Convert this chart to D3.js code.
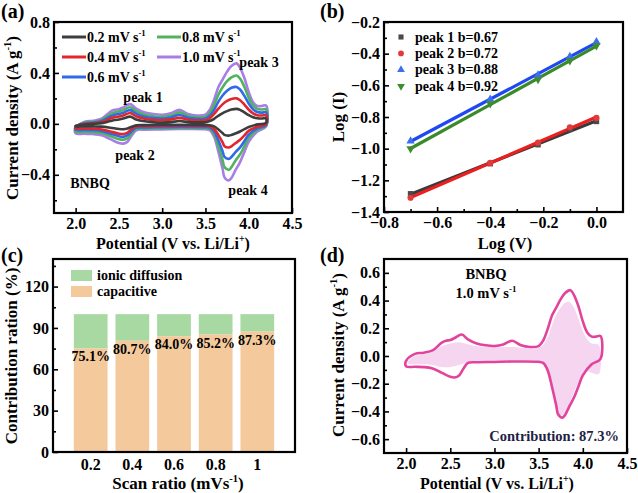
<!DOCTYPE html>
<html><head><meta charset="utf-8">
<script src="https://cdn.jsdelivr.net/npm/d3@7/dist/d3.min.js"></script>
<style>body{margin:0;background:#fff}svg{display:block}</style>
</head><body>
<script>
// ---------------- DATA ----------------
// (a) CV curves: anodic (upper) and cathodic (lower) branches
const potUp   = [2.0,2.1,2.2,2.3,2.4,2.45,2.5,2.55,2.63,2.7,2.8,2.9,3.0,3.1,3.2,3.3,3.4,3.5,3.55,3.6,3.65,3.7,3.75,3.8,3.86,3.9,3.95,4.0,4.05,4.1,4.15,4.2];
const potDown = [4.2,4.1,4.0,3.95,3.9,3.85,3.8,3.77,3.72,3.7,3.65,3.6,3.55,3.5,3.2,3.0,2.8,2.7,2.65,2.6,2.55,2.5,2.4,2.3,2.2,2.1,2.0];
const rateLabels = ["0.2","0.4","0.6","0.8","1.0"];
const cv02Up = [-0.015,-0.005,0.0,0.006,0.022,0.03,0.035,0.042,0.057,0.035,0.02,0.013,0.011,0.014,0.022,0.014,0.012,0.013,0.022,0.04,0.064,0.085,0.1,0.112,0.118,0.11,0.09,0.068,0.052,0.044,0.042,0.043];
const cv02Down = [0.008,-0.004,-0.025,-0.042,-0.06,-0.074,-0.087,-0.092,-0.087,-0.074,-0.044,-0.02,-0.011,-0.01,-0.008,-0.009,-0.01,-0.012,-0.022,-0.036,-0.042,-0.04,-0.03,-0.022,-0.02,-0.02,-0.02];
const cv04Up = [-0.02,0.0,0.005,0.014,0.042,0.052,0.058,0.066,0.085,0.06,0.04,0.031,0.029,0.035,0.047,0.033,0.028,0.029,0.045,0.078,0.12,0.155,0.18,0.195,0.2,0.186,0.152,0.112,0.082,0.068,0.066,0.068];
const cv04Down = [-0.003,-0.022,-0.055,-0.09,-0.125,-0.15,-0.176,-0.186,-0.175,-0.148,-0.088,-0.04,-0.02,-0.017,-0.015,-0.016,-0.018,-0.021,-0.04,-0.068,-0.08,-0.077,-0.06,-0.044,-0.038,-0.036,-0.035];
const cv06Up = [-0.025,0.004,0.01,0.022,0.058,0.072,0.078,0.088,0.108,0.08,0.056,0.045,0.042,0.05,0.07,0.047,0.04,0.042,0.064,0.11,0.175,0.225,0.26,0.283,0.29,0.27,0.22,0.16,0.115,0.093,0.088,0.09];
const cv06Down = [-0.01,-0.035,-0.085,-0.135,-0.185,-0.22,-0.26,-0.275,-0.26,-0.22,-0.13,-0.06,-0.03,-0.026,-0.024,-0.026,-0.028,-0.031,-0.056,-0.088,-0.102,-0.097,-0.077,-0.057,-0.05,-0.048,-0.047];
const cv08Up = [-0.03,0.008,0.016,0.03,0.075,0.09,0.097,0.108,0.13,0.1,0.072,0.06,0.056,0.065,0.09,0.062,0.052,0.056,0.085,0.15,0.23,0.29,0.335,0.365,0.38,0.355,0.29,0.205,0.145,0.118,0.113,0.115];
const cv08Down = [-0.015,-0.045,-0.11,-0.175,-0.24,-0.285,-0.34,-0.36,-0.34,-0.29,-0.175,-0.08,-0.04,-0.034,-0.032,-0.034,-0.036,-0.04,-0.072,-0.112,-0.125,-0.12,-0.096,-0.072,-0.064,-0.062,-0.06];
const cv10Up = [-0.035,0.015,0.024,0.04,0.095,0.11,0.115,0.13,0.155,0.12,0.09,0.077,0.072,0.083,0.11,0.077,0.065,0.072,0.11,0.19,0.29,0.35,0.41,0.455,0.475,0.44,0.36,0.25,0.17,0.14,0.14,0.145];
const cv10Down = [-0.02,-0.06,-0.14,-0.22,-0.3,-0.36,-0.425,-0.445,-0.42,-0.36,-0.22,-0.1,-0.05,-0.042,-0.04,-0.043,-0.045,-0.05,-0.09,-0.14,-0.155,-0.15,-0.12,-0.09,-0.08,-0.078,-0.075];

// (b) log(I) vs log(v)
const logV = [-0.70,-0.40,-0.22,-0.10,0.00];
const peak1 = [-1.285,-1.095,-0.975,-0.878,-0.828];
const peak2 = [-1.31,-1.09,-0.962,-0.865,-0.806];
const peak3 = [-0.952,-0.688,-0.535,-0.419,-0.325];
const peak4 = [-1.0,-0.716,-0.563,-0.444,-0.35];
const peakLabels = ["peak 1 b=0.67","peak 2 b=0.72","peak 3 b=0.88","peak 4 b=0.92"];

// (c) contribution ratios
const scanRates = ["0.2","0.4","0.6","0.8","1"];
const capacitive = [75.1,80.7,84.0,85.2,87.3];
const diffusion = capacitive.map(v => 100 - v);

// (d) 1.0 mV/s CV with capacitive fill region
const capPotUp = [2.02,2.1,2.2,2.3,2.4,2.5,2.6,2.7,2.8,3.0,3.2,3.3,3.4,3.5,3.55,3.6,3.65,3.7,3.75,3.8,3.85,3.9,3.95,4.0,4.05,4.1,4.18];
const capUp    = [-0.04,0.0,0.01,0.03,0.07,0.09,0.1,0.085,0.07,0.065,0.065,0.06,0.055,0.06,0.08,0.13,0.22,0.3,0.35,0.385,0.39,0.35,0.27,0.18,0.12,0.09,0.08];
const capPotDown = [4.18,4.1,4.05,4.0,3.95,3.9,3.85,3.8,3.76,3.72,3.7,3.65,3.6,3.55,3.5,3.0,2.8,2.7,2.6,2.5,2.4,2.3,2.2,2.1,2.02];
const capDown    = [-0.13,-0.12,-0.11,-0.13,-0.19,-0.26,-0.34,-0.41,-0.43,-0.41,-0.35,-0.21,-0.095,-0.05,-0.035,-0.035,-0.035,-0.045,-0.065,-0.08,-0.08,-0.065,-0.06,-0.06,-0.055];

// ---------------- DRAW ----------------
const FONT = "'Liberation Serif','Times New Roman',serif";
const svg = d3.select("body").append("svg").attr("width",638).attr("height",493)
  .attr("font-family",FONT).attr("font-weight","bold");

function rich(sel, parts, size){
  let prevSup = false;
  parts.forEach(([t, sup]) => {
    const ts = sel.append("tspan").text(t);
    if (sup){ ts.attr("font-size", size*0.62).attr("dy", -size*0.42); }
    else if (prevSup){ ts.attr("dy", size*0.42); }
    prevSup = sup;
  });
  return sel;
}
function label(x,y,parts,size,anchor,rot,fill){
  const t = svg.append("text").attr("font-size",size).attr("text-anchor",anchor||"start")
    .attr("fill",fill||"#000");
  if (rot) t.attr("transform",`translate(${x},${y}) rotate(-90)`);
  else t.attr("x",x).attr("y",y);
  return rich(t, typeof parts === "string" ? [[parts,false]] : parts, size);
}
const TICK = 16;
function styleAxis(g, size){
  g.select(".domain").remove();
  g.attr("font-family",FONT).attr("font-weight","bold").attr("font-size",size);
  g.selectAll(".tick line").attr("stroke","#000").attr("stroke-width",1.6);
  g.selectAll(".tick text").attr("font-size",size).attr("font-family",FONT).attr("font-weight","bold").attr("fill","#000");
}
function frame(x0,y0,x1,y1){
  svg.append("rect").attr("x",x0).attr("y",y0).attr("width",x1-x0).attr("height",y1-y0)
    .attr("fill","none").attr("stroke","#000").attr("stroke-width",2.2);
}
function yAxes(y, x0, major, minor, fmt){
  const g = svg.append("g").attr("transform",`translate(${x0},0)`)
    .call(d3.axisLeft(y).tickValues(major).tickSize(-5).tickPadding(4).tickFormat(fmt));
  styleAxis(g,TICK);
  if (minor){
    const m = svg.append("g").attr("transform",`translate(${x0},0)`)
      .call(d3.axisLeft(y).tickValues(minor).tickSize(-3).tickFormat(""));
    styleAxis(m,TICK);
  }
}
function xAxes(x, y0, major, minor, fmt){
  const g = svg.append("g").attr("transform",`translate(0,${y0})`)
    .call(d3.axisBottom(x).tickValues(major).tickSize(-5).tickPadding(5).tickFormat(fmt));
  styleAxis(g,TICK);
  if (minor){
    const m = svg.append("g").attr("transform",`translate(0,${y0})`)
      .call(d3.axisBottom(x).tickValues(minor).tickSize(-3).tickFormat(""));
    styleAxis(m,TICK);
  }
}
const f1 = d3.format(".1f");

// ===== (a) =====
const xa = d3.scaleLinear().domain([1.75,4.5]).range([54,292]);
const ya = d3.scaleLinear().domain([-0.7,0.8]).range([213,22]);
const cvSeries = [
  {up:cv02Up, down:cv02Down, color:"#3d3d3d"},
  {up:cv04Up, down:cv04Down, color:"#e3262c"},
  {up:cv06Up, down:cv06Down, color:"#2f6ae8"},
  {up:cv08Up, down:cv08Down, color:"#52b35c"},
  {up:cv10Up, down:cv10Down, color:"#a77de6"}
];
const loopLine = (xs,ys) => d3.line().x(d=>xs(d[0])).y(d=>ys(d[1])).curve(d3.curveCatmullRomClosed.alpha(0.5));
const lineA = loopLine(xa,ya);
cvSeries.slice().reverse().forEach(s => {
  const pts = potUp.map((p,i)=>[p,s.up[i]]).concat(potDown.map((p,i)=>[p,s.down[i]]));
  svg.append("path").attr("d",lineA(pts)).attr("fill","none").attr("stroke",s.color).attr("stroke-width",2.6);
});
frame(54,22,292,213);
yAxes(ya,54,[-0.4,0,0.4,0.8],[-0.6,-0.2,0.2,0.6],f1);
xAxes(xa,213,[2,2.5,3,3.5,4,4.5],null,f1);
// legend (a)
const legA = [[62,37],[62,57],[62,77],[157,37],[157,57]];
cvSeries.forEach((s,i)=>{
  const [lx,ly] = legA[i];
  svg.append("line").attr("x1",lx).attr("x2",lx+24).attr("y1",ly).attr("y2",ly).attr("stroke",s.color).attr("stroke-width",3);
  label(lx+25,ly+4.5,[[rateLabels[i]+" mV s",false],["-1",true]],14);
});
label(143,102,"peak 1",14,"middle");
label(135,160,"peak 2",14,"middle");
label(259,67,"peak 3",14,"middle");
label(248,195,"peak 4",14,"middle");
label(90,188,"BNBQ",14,"middle");
label(18,118,[["Current density (A g",false],["-1",true],[")",false]],17,"middle",true);
label(173,248.5,[["Potential (V vs. Li/Li",false],["+",true],[")",false]],16,"middle");

// ===== (b) =====
const xb = d3.scaleLinear().domain([-0.8,0.1]).range([384,623]);
const yb = d3.scaleLinear().domain([-1.4,-0.2]).range([212,22]);
const peaks = [
  {v:peak1, line:"#3a3a3a", mark:"#4a4a4a", sym:d3.symbolSquare},
  {v:peak2, line:"#ea2020", mark:"#e23a3a", sym:d3.symbolCircle},
  {v:peak3, line:"#1f48f2", mark:"#3d6ef0", sym:d3.symbolTriangle},
  {v:peak4, line:"#3a8a2a", mark:"#3f8c30", sym:d3.symbolTriangle, down:true}
];
function fit(xs, ys){
  const mx = d3.mean(xs), my = d3.mean(ys);
  const b = d3.sum(xs.map((x,i)=>(x-mx)*(ys[i]-my))) / d3.sum(xs.map(x=>(x-mx)*(x-mx)));
  return [b, my - b*mx];
}
peaks.forEach(p=>{
  const [b,a] = fit(logV,p.v);
  const x0 = d3.min(logV), x1 = d3.max(logV);
  svg.append("line").attr("x1",xb(x0)).attr("x2",xb(x1)).attr("y1",yb(a+b*x0)).attr("y2",yb(a+b*x1))
    .attr("stroke",p.line).attr("stroke-width",3.2);
});
peaks.forEach(p=>{
  p.v.forEach((v,i)=>{
    svg.append("path").attr("d",d3.symbol().type(p.sym).size(30)())
      .attr("transform",`translate(${xb(logV[i])},${yb(v)})${p.down?" rotate(180)":""}`)
      .attr("fill",p.mark);
  });
});
frame(384,22,623,212);
yAxes(yb,384,[-1.4,-1.2,-1.0,-0.8,-0.6,-0.4,-0.2],[-1.3,-1.1,-0.9,-0.7,-0.5,-0.3],f1);
xAxes(xb,212,[-0.8,-0.6,-0.4,-0.2,0.0],[-0.7,-0.5,-0.3,-0.1],f1);
peaks.forEach((p,i)=>{
  const ly = 37 + i*16.4;
  svg.append("path").attr("d",d3.symbol().type(p.sym).size(26)())
    .attr("transform",`translate(401,${ly})${p.down?" rotate(180)":""}`).attr("fill",p.mark);
  label(415,ly+4.5,peakLabels[i],14);
});
label(344,117,"Log (I)",17,"middle",true);
label(505,248.5,"Log (V)",16.5,"middle");

// ===== (c) =====
const xc = d3.scaleBand().domain(scanRates).range([53,295]).paddingInner(0.19).paddingOuter(0.5);
const yc = d3.scaleLinear().domain([0,140]).range([452,259]);
scanRates.forEach((r,i)=>{
  svg.append("rect").attr("x",xc(r)).attr("width",xc.bandwidth()).attr("y",yc(100)).attr("height",yc(capacitive[i])-yc(100)).attr("fill","#a9d9a2");
  svg.append("rect").attr("x",xc(r)).attr("width",xc.bandwidth()).attr("y",yc(capacitive[i])).attr("height",yc(0)-yc(capacitive[i])).attr("fill","#f4c99c");
  label(xc(r)+xc.bandwidth()/2, yc(capacitive[i])+13, capacitive[i].toFixed(1)+"%", 14, "middle");
});
frame(53,259,295,452);
yAxes(yc,53,[0,30,60,90,120],[15,45,75,105,135],d3.format("d"));
{
  const g = svg.append("g").attr("transform","translate(0,452)")
    .call(d3.axisBottom(xc).tickSize(0).tickPadding(7));
  styleAxis(g,TICK);
}
svg.append("rect").attr("x",71).attr("y",270).attr("width",21).attr("height",11).attr("fill","#a9d9a2");
svg.append("rect").attr("x",71).attr("y",286).attr("width",21).attr("height",11).attr("fill","#f4c99c");
label(97,279.5,"ionic diffusion",14);
label(97,295.5,"capacitive",14);
label(17,356,"Contribution ration (%)",17,"middle",true);
label(178,489,[["Scan ratio (mVs",false],["-1",true],[")",false]],17,"middle");

// ===== (d) =====
const xd = d3.scaleLinear().domain([1.75,4.5]).range([384,627]);
const yd = d3.scaleLinear().domain([-0.7,0.7]).range([453,259]);
const lineD = loopLine(xd,yd);
const capPts = capPotUp.map((p,i)=>[p,capUp[i]]).concat(capPotDown.map((p,i)=>[p,capDown[i]]));
svg.append("path").attr("d",lineD(capPts)).attr("fill","#f5d5f0").attr("stroke","none");
const cvPts = potUp.map((p,i)=>[p,cv10Up[i]]).concat(potDown.map((p,i)=>[p,cv10Down[i]]));
svg.append("path").attr("d",lineD(cvPts)).attr("fill","none").attr("stroke","#e2449d").attr("stroke-width",2.6);
frame(384,259,627,453);
yAxes(yd,384,[-0.6,-0.4,-0.2,0,0.2,0.4,0.6],[-0.5,-0.3,-0.1,0.1,0.3,0.5],f1);
xAxes(xd,453,[2,2.5,3,3.5,4,4.5],null,f1);
label(486,279,"BNBQ",14.5,"middle");
label(486,298,[["1.0 mV s",false],["-1",true]],14.5,"middle");
label(619,441,"Contribution: 87.3%",14.5,"end",false,"#1e2244");
label(344,355,[["Current density (A g",false],["-1",true],[")",false]],17,"middle",true);
label(497,489,[["Potential (V vs. Li/Li",false],["+",true],[")",false]],16,"middle");

// panel labels
label(1,18,"(a)",20);
label(320,18,"(b)",20);
label(1,262,"(c)",20);
label(320,262,"(d)",20);
</script>
</body></html>
